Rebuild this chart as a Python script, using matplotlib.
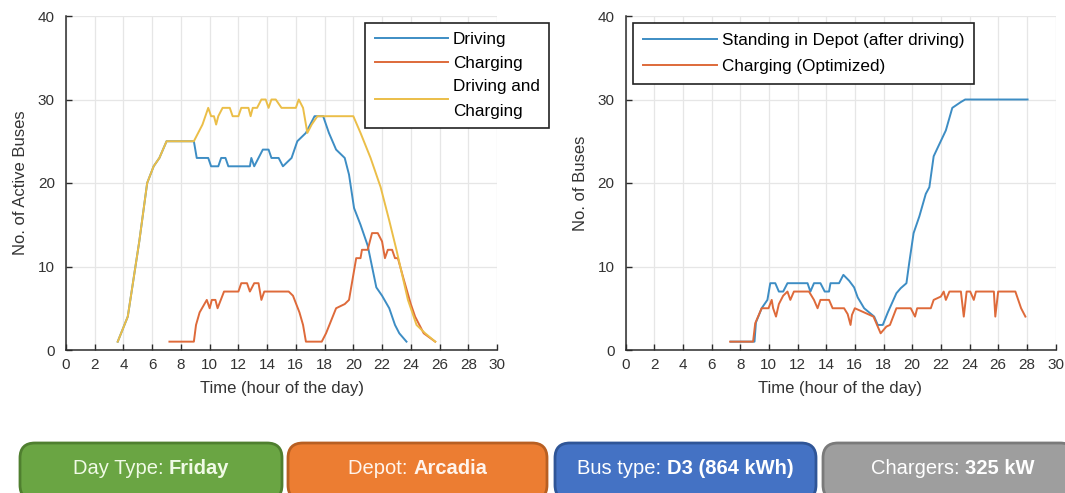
import matplotlib
matplotlib.use("Agg")
import matplotlib.pyplot as plt
from matplotlib.patches import FancyBboxPatch

# ---------------- data ----------------
hours_ticks = list(range(0, 31, 2))
y_ticks = [0, 10, 20, 30, 40]

# Left panel
drive_t = [3.6, 4.3, 5.1, 5.65, 6.1, 6.5, 7.0, 8.9, 9.1, 9.9, 10.1, 10.6, 10.8, 11.1, 11.3,
           12.8, 12.9, 13.1, 13.4, 13.7, 14.1, 14.3, 14.8, 15.1, 15.7, 16.1, 16.7, 17.3, 17.9,
           18.3, 18.8, 19.4, 19.7, 20.05, 20.5, 21.0, 21.3, 21.6, 22.0, 22.5, 22.9, 23.2, 23.7]
drive_v = [1, 4, 13, 20, 22, 23, 25, 25, 23, 23, 22, 22, 23, 23, 22,
           22, 23, 22, 23, 24, 24, 23, 23, 22, 23, 25, 26, 28, 28,
           26, 24, 23, 21, 17, 15, 12.5, 10, 7.5, 6.5, 5, 3, 2, 1]

charge_t = [7.2, 8.9, 9.05, 9.3, 9.8, 10.0, 10.15, 10.4, 10.55, 11.0, 12.0, 12.2, 12.6, 12.8,
            13.1, 13.4, 13.6, 13.8, 15.5, 15.8, 16.25, 16.5, 16.7, 17.8, 18.1, 18.8, 19.4,
            19.7, 20.05, 20.2, 20.5, 20.6, 21.0, 21.3, 21.7, 22.0, 22.2, 22.4, 22.7, 22.9,
            23.1, 23.5, 24.0, 24.3, 24.9, 25.7]
charge_v = [1, 1, 3, 4.5, 6, 5, 6, 6, 5, 7, 7, 8, 8, 7,
            8, 8, 6, 7, 7, 6.5, 4.5, 3, 1, 1, 2, 5, 5.5,
            6, 9.5, 11, 11, 12, 12, 14, 14, 13, 11, 12, 12, 11,
            11, 8.5, 5.5, 4, 2, 1]

both_t = [3.6, 4.3, 5.1, 5.65, 6.1, 6.5, 7.0, 8.9, 9.5, 9.9, 10.1, 10.3, 10.45, 10.6, 10.9,
          11.4, 11.6, 12.0, 12.2, 12.7, 12.85, 13.0, 13.3, 13.6, 13.9, 14.1, 14.3, 14.6,
          15.0, 16.0, 16.2, 16.5, 16.8, 17.1, 17.5, 20.0, 20.5, 21.2, 21.9, 22.5, 23.0,
          23.4, 23.8, 24.4, 25.0, 25.7]
both_v = [1, 4, 13, 20, 22, 23, 25, 25, 27, 29, 28, 28, 27, 28, 29,
          29, 28, 28, 29, 29, 28, 29, 29, 30, 30, 29, 30, 30,
          29, 29, 30, 29, 26, 27, 28, 28, 26, 23, 19.5, 15.5, 12,
          9, 6, 3, 2, 1]

# Right panel
stand_t = [7.35, 9.0, 9.1, 9.5, 9.9, 10.1, 10.45, 10.7, 11.0, 11.3, 12.7, 12.9, 13.15, 13.6,
           13.9, 14.2, 14.3, 14.9, 15.2, 15.6, 15.95, 16.2, 16.65, 17.35, 17.6, 17.95, 18.3,
           18.9, 19.2, 19.6, 19.8, 20.1, 20.5, 20.95, 21.2, 21.5, 21.8, 22.35, 22.8, 23.4,
           23.7, 28.05]
stand_v = [1, 1, 3.3, 5, 6, 8, 8, 7, 7, 8, 8, 7, 8, 8,
           7, 7, 8, 8, 9, 8.3, 7.5, 6.3, 5, 4, 3, 3, 4.5,
           6.8, 7.4, 8, 10.5, 14, 16, 18.7, 19.5, 23.2, 24.3, 26.3, 29, 29.7,
           30, 30]

opt_t = [7.3, 8.9, 9.05, 9.3, 9.5, 9.98, 10.2, 10.3, 10.5, 10.7, 11.0, 11.3, 11.5, 11.75,
         12.8, 13.15, 13.4, 13.6, 14.2, 14.45, 15.25, 15.5, 15.7, 15.8, 16.0, 16.65, 17.3,
         17.6, 17.8, 18.2, 18.45, 18.9, 19.9, 20.2, 20.35, 21.3, 21.5, 22.0, 22.2, 22.35,
         22.6, 23.4, 23.6, 23.8, 24.05, 24.3, 24.45, 25.7, 25.8, 26.0, 27.2, 27.6, 27.9]
opt_v = [1, 1, 3.2, 4.2, 5, 5, 6, 5, 4, 5.5, 6.5, 7, 6, 7,
         7, 6, 5, 6, 6, 5, 5, 4.3, 3, 4.2, 5, 4.5, 4,
         2.8, 2, 2.8, 3, 5, 5, 4, 5, 5, 6, 6.4, 7, 6,
         7, 7, 4, 7, 7, 6, 7, 7, 4, 7, 7, 5, 4]

left_labels = ["Driving", "Charging", "Driving and\nCharging"]
right_labels = ["Standing in Depot (after driving)", "Charging (Optimized)"]
xlabel = "Time (hour of the day)"
ylabel_left = "No. of Active Buses"
ylabel_right = "No. of Buses"

badge_prefix = ["Day Type: ", "Depot: ", "Bus type: ", "Chargers: "]
badge_value = ["Friday", "Arcadia", "D3 (864 kWh)", "325 kW"]

# ---------------- style ----------------
BLUE = "#3D8DC4"
ORANGE = "#DE6A3A"
YELLOW = "#EBBE48"
FONT = ["Liberation Sans", "DejaVu Sans"]
plt.rcParams["font.family"] = FONT

W, H = 1065, 493
fig = plt.figure(figsize=(W / 100, H / 100), dpi=100)


def px_axes(x0, x1, ytop, ybot):
    return fig.add_axes([x0 / W, (H - ybot) / H, (x1 - x0) / W, (ybot - ytop) / H])


def style_axes(ax, ylabel):
    ax.set_xlim(0, 30)
    ax.set_ylim(0, 40)
    ax.set_xticks(hours_ticks)
    ax.set_yticks(y_ticks)
    ax.grid(True, color="#e6e6e6", linewidth=0.9)
    ax.set_axisbelow(True)
    for s in ["top", "right"]:
        ax.spines[s].set_visible(False)
    for s in ["left", "bottom"]:
        ax.spines[s].set_color("#2b2b2b")
        ax.spines[s].set_linewidth(1.1)
    ax.tick_params(direction="in", length=4, width=1, colors="#2b2b2b",
                   labelsize=11, labelcolor="#333333")
    ax.tick_params(axis="x", pad=6)
    ax.tick_params(axis="y", pad=8)
    ax.set_xlabel(xlabel, fontsize=12, color="#333333", labelpad=6)
    ax.set_ylabel(ylabel, fontsize=12, color="#333333", labelpad=7)


LEG_FS = 12.3
lw = 1.4

axL = px_axes(66, 497, 16, 350)
style_axes(axL, ylabel_left)
l1, = axL.plot(drive_t, drive_v, color=BLUE, lw=lw, label=left_labels[0])
l2, = axL.plot(charge_t, charge_v, color=ORANGE, lw=lw, label=left_labels[1])
l3, = axL.plot(both_t, both_v, color=YELLOW, lw=lw, label=left_labels[2])
legL = axL.legend(handles=[l1, l2, l3], loc="upper left", bbox_to_anchor=(0.694, 0.979),
                  borderaxespad=0, fancybox=False, framealpha=1, edgecolor="#222222",
                  fontsize=LEG_FS, handlelength=4.3, handletextpad=0.3, labelspacing=0.5,
                  borderpad=0.55)
for t in legL.get_texts():
    t.set_linespacing(1.8)
legL.get_frame().set_linewidth(1.2)
legL.set_zorder(10)

axR = px_axes(625.5, 1055.5, 16, 350)
style_axes(axR, ylabel_right)
r1, = axR.plot(stand_t, stand_v, color=BLUE, lw=lw, label=right_labels[0])
r2, = axR.plot(opt_t, opt_v, color=ORANGE, lw=lw, label=right_labels[1])
legR = axR.legend(handles=[r1, r2], loc="upper left", bbox_to_anchor=(0.017, 0.979),
                  borderaxespad=0, fancybox=False, framealpha=1, edgecolor="#222222",
                  fontsize=LEG_FS, handlelength=4.3, handletextpad=0.3, labelspacing=0.6,
                  borderpad=0.6)
legR.get_frame().set_linewidth(1.2)

# ---------------- badges ----------------
badge_x = [(20, 282), (288, 547), (555, 816), (823, 1075)]
badge_fill = ["#6AA543", "#EC7D32", "#4472C4", "#9E9E9E"]
badge_edge = ["#4F7F2F", "#B85F22", "#2F5597", "#7A7A7A"]
badge_text = ["#F0FAE6", "#FFF4EC", "#FFFFFF", "#FFFFFF"]
btop, bbot = 443, 500
bsize = 14.5

for (x0, x1), fc, ec in zip(badge_x, badge_fill, badge_edge):
    p = FancyBboxPatch((x0 / W, (H - bbot) / H), (x1 - x0) / W, (bbot - btop) / H,
                       boxstyle="round,pad=0,rounding_size=0.014",
                       transform=fig.transFigure, facecolor=fc, edgecolor=ec,
                       linewidth=2.0, mutation_aspect=W / H, clip_on=False)
    fig.add_artist(p)

renderer = fig.canvas.get_renderer()
ty = (H - 469) / H
for (x0, x1), pre, val, tc in zip(badge_x, badge_prefix, badge_value, badge_text):
    cx = (x0 + x1) / 2 if x1 <= W else 953
    t1 = fig.text(0, ty, pre, fontsize=bsize, color=tc, va="center", ha="left")
    t2 = fig.text(0, ty, val, fontsize=bsize, color=tc, va="center", ha="left",
                  fontweight="bold")
    w1 = t1.get_window_extent(renderer).width
    w2 = t2.get_window_extent(renderer).width
    start = cx - (w1 + w2) / 2
    t1.set_x(start / W)
    t2.set_x((start + w1) / W)

fig.savefig("out.png", dpi=100)
